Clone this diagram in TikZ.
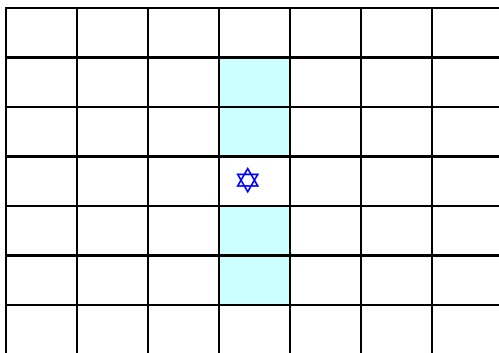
\documentclass[tikz,border=0pt]{standalone}
\usepackage{fontspec}
\newfontfamily\symfont{DejaVu Sans}
\definecolor{cellcyan}{HTML}{CCFFFF}
\definecolor{starblue}{HTML}{0000FF}
\tikzset{
  gridline/.style={line width=1.15pt, black, line cap=rect},
  hilite/.style={fill=cellcyan},
  marker/.style={text=starblue, inner sep=0pt, font=\symfont\fontsize{20}{20}\selectfont},
}
\begin{document}
\begin{tikzpicture}[x=0.02cm, y=-0.02cm]
  \def\cw{71}\def\ch{49.5}
  \useasboundingbox (0,0) rectangle (499,352);
  \clip (0,0) rectangle (499,352);
  % highlighted cells in the middle column
  \foreach \r in {1,2,4,5}
    \fill[hilite] (219,8+\r*\ch) rectangle ++(\cw,\ch);
  % grid
  \foreach \i in {0,...,6}
    \draw[gridline] (6+\i*\cw,8) -- (6+\i*\cw,360);
  \foreach \j in {0,...,6}
    \draw[gridline] (6,8+\j*\ch) -- (510,8+\j*\ch);
  \node[marker] (star) at (248,181) {✡};
\end{tikzpicture}
\end{document}
